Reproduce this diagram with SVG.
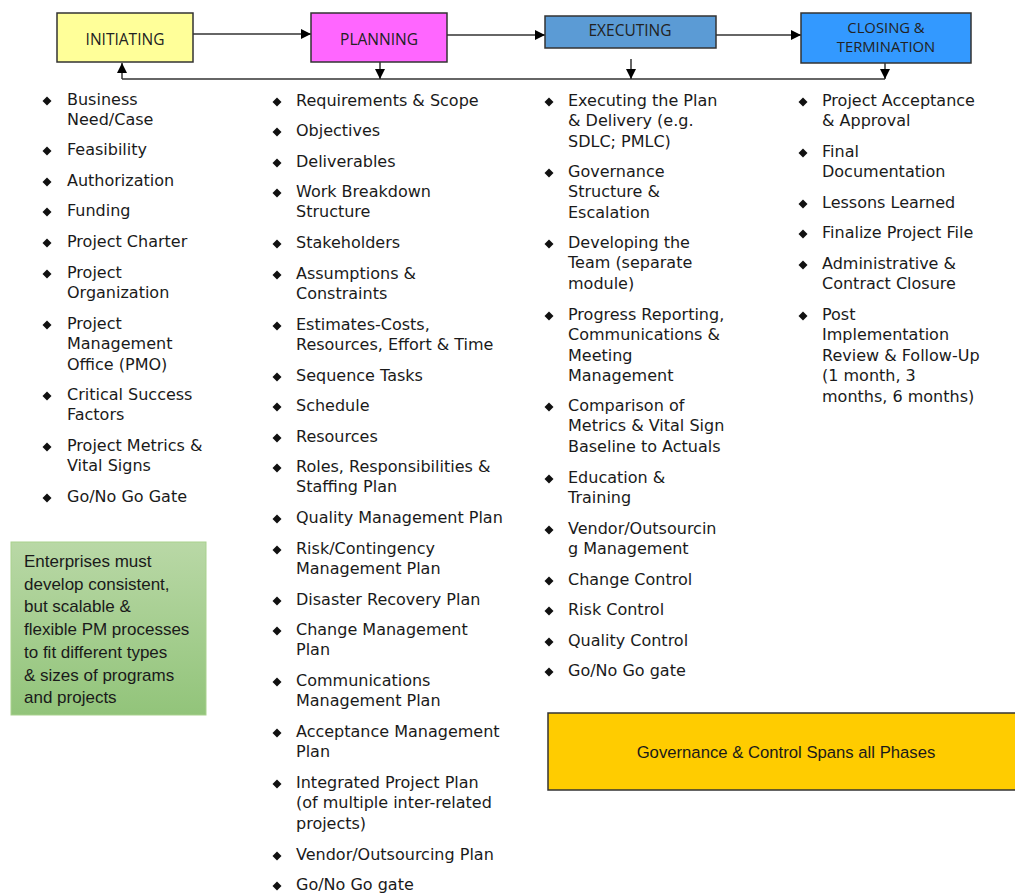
<svg xmlns="http://www.w3.org/2000/svg" width="1015" height="894" viewBox="0 0 1015 894">
<defs>
<style>
.box{stroke:#333;stroke-width:1.5}
.bt{font-family:"Open Sans","DejaVu Sans",sans-serif;font-size:15.5px;fill:#222;text-anchor:middle}
.bt2{font-family:"Open Sans","DejaVu Sans",sans-serif;font-size:14.8px;fill:#222;text-anchor:middle}
.li{font-family:"DejaVu Sans",sans-serif;font-size:16px;fill:#1a1a1a}
.cb{font-family:"Liberation Sans",Arial,sans-serif;font-size:17px;fill:#1a1a1a}
.con{stroke:#333;stroke-width:1.5;fill:none}
.bul{fill:#111}
</style>
<marker id="ah" viewBox="0 0 10 10" refX="10" refY="5" markerWidth="11" markerHeight="10" markerUnits="userSpaceOnUse" orient="auto"><path d="M0,0 L10,5 L0,10 z" fill="#000"/></marker>
<path id="d" d="M0,-4.5 L4.5,0 L0,4.5 L-4.5,0 z"/>
<linearGradient id="gg" x1="0" y1="0" x2="0" y2="1"><stop offset="0" stop-color="#b9d8a6"/><stop offset="1" stop-color="#92c47a"/></linearGradient>
</defs>
<rect width="1015" height="894" fill="#fff"/>

<g id="connectors">
<line class="con" x1="193" y1="34" x2="311" y2="34" marker-end="url(#ah)"/>
<line class="con" x1="447" y1="35" x2="545" y2="35" marker-end="url(#ah)"/>
<line class="con" x1="716" y1="35" x2="801" y2="35" marker-end="url(#ah)"/>
<polyline class="con" points="122,79 885,79"/>
<line class="con" x1="122" y1="79" x2="122" y2="63" marker-end="url(#ah)"/>
<line class="con" x1="380" y1="62" x2="380" y2="79" marker-end="url(#ah)"/>
<line class="con" x1="631" y1="59" x2="631" y2="79" marker-end="url(#ah)"/>
<line class="con" x1="885" y1="63" x2="885" y2="79" marker-end="url(#ah)"/>
</g>

<g id="initiating"><rect class="box" x="57" y="13" width="136" height="49" fill="#ffff99"/><text class="bt" x="125" y="45">INITIATING</text></g>
<g id="planning"><rect class="box" x="311" y="13" width="136" height="49" fill="#ff66ff"/><text class="bt" x="379" y="45">PLANNING</text></g>
<g id="executing"><rect class="box" x="545" y="16" width="171" height="32" fill="#5b9bd5"/><text class="bt" x="630" y="36">EXECUTING</text></g>
<g id="closing"><rect class="box" x="801" y="13" width="170" height="50" fill="#3399ff"/><text class="bt2" x="886" y="33">CLOSING &amp;</text><text class="bt2" x="886" y="51.5">TERMINATION</text></g>

<g id="list-initiating" transform="translate(0,1)">
<use href="#d" x="47" y="100" class="bul"/><text class="li" x="67" y="104">Business<tspan x="67" dy="20.4">Need/Case</tspan></text>
<use href="#d" x="47" y="150" class="bul"/><text class="li" x="67" y="154">Feasibility</text>
<use href="#d" x="47" y="181" class="bul"/><text class="li" x="67" y="185">Authorization</text>
<use href="#d" x="47" y="211" class="bul"/><text class="li" x="67" y="215">Funding</text>
<use href="#d" x="47" y="242" class="bul"/><text class="li" x="67" y="246">Project Charter</text>
<use href="#d" x="47" y="273" class="bul"/><text class="li" x="67" y="277">Project<tspan x="67" dy="20.4">Organization</tspan></text>
<use href="#d" x="47" y="324" class="bul"/><text class="li" x="67" y="328">Project<tspan x="67" dy="20.4">Management</tspan><tspan x="67" dy="20.4">Office (PMO)</tspan></text>
<use href="#d" x="47" y="395" class="bul"/><text class="li" x="67" y="399">Critical Success<tspan x="67" dy="20.4">Factors</tspan></text>
<use href="#d" x="47" y="446" class="bul"/><text class="li" x="67" y="450">Project Metrics &amp;<tspan x="67" dy="20.4">Vital Signs</tspan></text>
<use href="#d" x="47" y="497" class="bul"/><text class="li" x="67" y="501">Go/No Go Gate</text>
</g>

<g id="list-planning" transform="translate(0,1)">
<use href="#d" x="277" y="101" class="bul"/><text class="li" x="296" y="105">Requirements &amp; Scope</text>
<use href="#d" x="277" y="131" class="bul"/><text class="li" x="296" y="135">Objectives</text>
<use href="#d" x="277" y="162" class="bul"/><text class="li" x="296" y="166">Deliverables</text>
<use href="#d" x="277" y="192" class="bul"/><text class="li" x="296" y="196">Work Breakdown<tspan x="296" dy="20.4">Structure</tspan></text>
<use href="#d" x="277" y="243" class="bul"/><text class="li" x="296" y="247">Stakeholders</text>
<use href="#d" x="277" y="274" class="bul"/><text class="li" x="296" y="278">Assumptions &amp;<tspan x="296" dy="20.4">Constraints</tspan></text>
<use href="#d" x="277" y="325" class="bul"/><text class="li" x="296" y="329">Estimates-Costs,<tspan x="296" dy="20.4">Resources, Effort &amp; Time</tspan></text>
<use href="#d" x="277" y="376" class="bul"/><text class="li" x="296" y="380">Sequence Tasks</text>
<use href="#d" x="277" y="406" class="bul"/><text class="li" x="296" y="410">Schedule</text>
<use href="#d" x="277" y="437" class="bul"/><text class="li" x="296" y="441">Resources</text>
<use href="#d" x="277" y="467" class="bul"/><text class="li" x="296" y="471">Roles, Responsibilities &amp;<tspan x="296" dy="20.4">Staffing Plan</tspan></text>
<use href="#d" x="277" y="518" class="bul"/><text class="li" x="296" y="522">Quality Management Plan</text>
<use href="#d" x="277" y="549" class="bul"/><text class="li" x="296" y="553">Risk/Contingency<tspan x="296" dy="20.4">Management Plan</tspan></text>
<use href="#d" x="277" y="600" class="bul"/><text class="li" x="296" y="604">Disaster Recovery Plan</text>
<use href="#d" x="277" y="630" class="bul"/><text class="li" x="296" y="634">Change Management<tspan x="296" dy="20.4">Plan</tspan></text>
<use href="#d" x="277" y="681" class="bul"/><text class="li" x="296" y="685">Communications<tspan x="296" dy="20.4">Management Plan</tspan></text>
<use href="#d" x="277" y="732" class="bul"/><text class="li" x="296" y="736">Acceptance Management<tspan x="296" dy="20.4">Plan</tspan></text>
<use href="#d" x="277" y="783" class="bul"/><text class="li" x="296" y="787">Integrated Project Plan<tspan x="296" dy="20.4">(of multiple inter-related</tspan><tspan x="296" dy="20.4">projects)</tspan></text>
<use href="#d" x="277" y="855" class="bul"/><text class="li" x="296" y="859">Vendor/Outsourcing Plan</text>
<use href="#d" x="277" y="885" class="bul"/><text class="li" x="296" y="889">Go/No Go gate</text>
</g>

<g id="list-executing" transform="translate(0,1)">
<use href="#d" x="549" y="101" class="bul"/><text class="li" x="568" y="105">Executing the Plan<tspan x="568" dy="20.4">&amp; Delivery (e.g.</tspan><tspan x="568" dy="20.4">SDLC; PMLC)</tspan></text>
<use href="#d" x="549" y="172" class="bul"/><text class="li" x="568" y="176">Governance<tspan x="568" dy="20.4">Structure &amp;</tspan><tspan x="568" dy="20.4">Escalation</tspan></text>
<use href="#d" x="549" y="243" class="bul"/><text class="li" x="568" y="247">Developing the<tspan x="568" dy="20.4">Team (separate</tspan><tspan x="568" dy="20.4">module)</tspan></text>
<use href="#d" x="549" y="315" class="bul"/><text class="li" x="568" y="319">Progress Reporting,<tspan x="568" dy="20.4">Communications &amp;</tspan><tspan x="568" dy="20.4">Meeting</tspan><tspan x="568" dy="20.4">Management</tspan></text>
<use href="#d" x="549" y="406" class="bul"/><text class="li" x="568" y="410">Comparison of<tspan x="568" dy="20.4">Metrics &amp; Vital Sign</tspan><tspan x="568" dy="20.4">Baseline to Actuals</tspan></text>
<use href="#d" x="549" y="478" class="bul"/><text class="li" x="568" y="482">Education &amp;<tspan x="568" dy="20.4">Training</tspan></text>
<use href="#d" x="549" y="529" class="bul"/><text class="li" x="568" y="533">Vendor/Outsourcin<tspan x="568" dy="20.4">g Management</tspan></text>
<use href="#d" x="549" y="580" class="bul"/><text class="li" x="568" y="584">Change Control</text>
<use href="#d" x="549" y="610" class="bul"/><text class="li" x="568" y="614">Risk Control</text>
<use href="#d" x="549" y="641" class="bul"/><text class="li" x="568" y="645">Quality Control</text>
<use href="#d" x="549" y="671" class="bul"/><text class="li" x="568" y="675">Go/No Go gate</text>
</g>

<g id="list-closing" transform="translate(0,1)">
<use href="#d" x="803" y="101" class="bul"/><text class="li" x="822" y="105">Project Acceptance<tspan x="822" dy="20.4">&amp; Approval</tspan></text>
<use href="#d" x="803" y="152" class="bul"/><text class="li" x="822" y="156">Final<tspan x="822" dy="20.4">Documentation</tspan></text>
<use href="#d" x="803" y="203" class="bul"/><text class="li" x="822" y="207">Lessons Learned</text>
<use href="#d" x="803" y="233" class="bul"/><text class="li" x="822" y="237">Finalize Project File</text>
<use href="#d" x="803" y="264" class="bul"/><text class="li" x="822" y="268">Administrative &amp;<tspan x="822" dy="20.4">Contract Closure</tspan></text>
<use href="#d" x="803" y="315" class="bul"/><text class="li" x="822" y="319">Post<tspan x="822" dy="20.4">Implementation</tspan><tspan x="822" dy="20.4">Review &amp; Follow-Up</tspan><tspan x="822" dy="20.4">(1 month, 3</tspan><tspan x="822" dy="20.4">months, 6 months)</tspan></text>
</g>

<g id="note-green">
<rect x="11" y="542" width="195" height="173" fill="url(#gg)" stroke="#a9d18e" stroke-width="1"/>
<text class="cb" x="24" y="567">Enterprises must<tspan x="24" dy="22.7">develop consistent,</tspan><tspan x="24" dy="22.7">but scalable &amp;</tspan><tspan x="24" dy="22.7">flexible PM processes</tspan><tspan x="24" dy="22.7">to fit different types</tspan><tspan x="24" dy="22.7">&amp; sizes of programs</tspan><tspan x="24" dy="22.7">and projects</tspan></text>
</g>

<g id="note-yellow">
<rect x="548" y="713" width="472" height="77" fill="#ffcc00" stroke="#333" stroke-width="1.5"/>
<text class="cb" x="786" y="758" text-anchor="middle" style="font-size:16.7px">Governance &amp; Control Spans all Phases</text>
</g>
</svg>
